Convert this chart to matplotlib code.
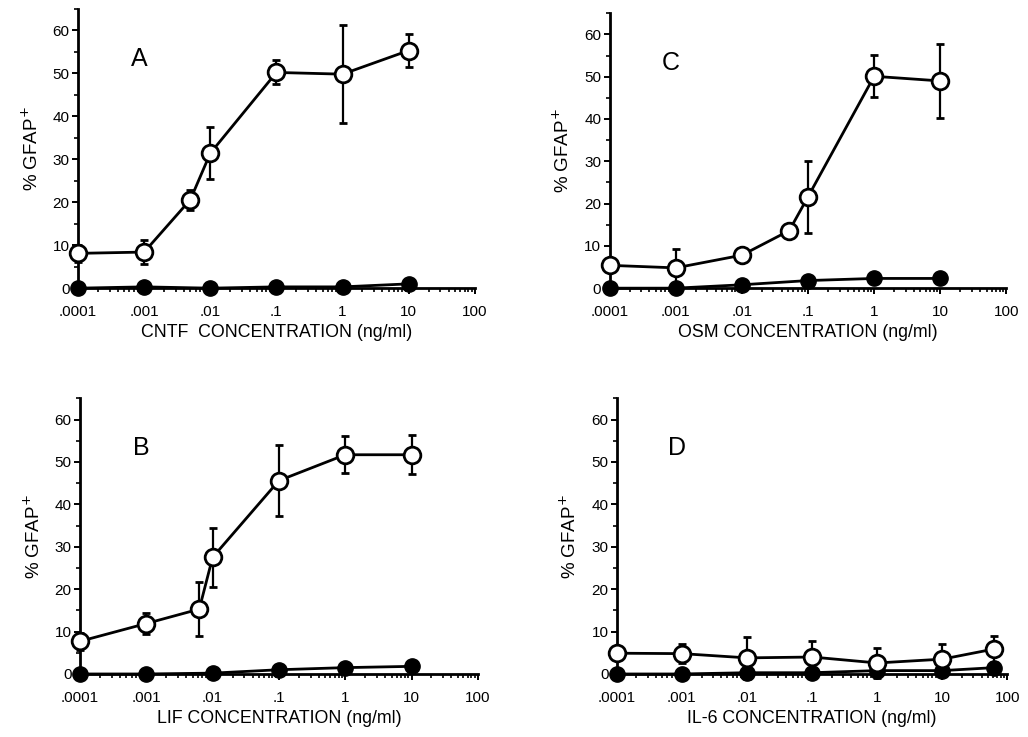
import matplotlib
matplotlib.use('Agg')
import matplotlib.pyplot as plt
from matplotlib.ticker import FixedLocator, LogLocator, NullFormatter, MultipleLocator
import numpy as np

plt.rcParams['font.family'] = ['Liberation Sans', 'DejaVu Sans']

# panel A - CNTF
a_open_x = [1e-4, 1e-3, 5e-3, 1e-2, 0.1, 1, 10]
a_open_y = [8.1, 8.4, 20.6, 31.4, 50.2, 49.8, 55.3]
a_open_err = [2.0, 2.7, 2.3, 6.0, 2.8, 11.4, 3.9]
a_fill_x = [1e-4, 1e-3, 1e-2, 0.1, 1, 10]
a_fill_y = [0.0, 0.3, 0.0, 0.3, 0.3, 1.0]

# panel B - LIF
b_open_x = [1e-4, 1e-3, 6.3e-3, 1e-2, 0.1, 1, 10]
b_open_y = [7.7, 11.9, 15.3, 27.5, 45.6, 51.7, 51.7]
b_open_err = [2.0, 2.5, 6.4, 7.0, 8.3, 4.4, 4.6]
b_fill_x = [1e-4, 1e-3, 1e-2, 0.1, 1, 10]
b_fill_y = [0.0, 0.0, 0.2, 1.0, 1.5, 1.8]

# panel C - OSM
c_open_x = [1e-4, 1e-3, 1e-2, 0.052, 0.1, 1, 10]
c_open_y = [5.4, 4.8, 7.8, 13.6, 21.6, 50.1, 49.0]
c_open_err = [0.0, 4.5, 0.0, 0.0, 8.5, 5.0, 8.8]
c_fill_x = [1e-4, 1e-3, 1e-2, 0.1, 1, 10]
c_fill_y = [0.0, 0.0, 0.8, 1.8, 2.3, 2.3]

# panel D - IL-6
d_open_x = [1e-4, 1e-3, 1e-2, 0.1, 1, 10, 63]
d_open_y = [4.9, 4.8, 3.8, 4.0, 2.6, 3.5, 5.9]
d_open_err = [0.0, 2.3, 5.0, 3.7, 3.5, 3.5, 3.1]
d_fill_x = [1e-4, 1e-3, 1e-2, 0.1, 1, 10, 63]
d_fill_y = [0.0, 0.0, 0.3, 0.3, 0.8, 0.8, 1.5]

x_ticks = [1e-4, 1e-3, 1e-2, 0.1, 1, 10, 100]
x_labels = ['.0001', '.001', '.01', '.1', '1', '10', '100']

panels = [
    ('A', 'CNTF  CONCENTRATION (ng/ml)', a_open_x, a_open_y, a_open_err, a_fill_x, a_fill_y,
     [0.0759, 0.609, 0.386, 0.379]),
    ('B', 'LIF CONCENTRATION (ng/ml)', b_open_x, b_open_y, b_open_err, b_fill_x, b_fill_y,
     [0.0778, 0.0855, 0.387, 0.374]),
    ('C', 'OSM CONCENTRATION (ng/ml)', c_open_x, c_open_y, c_open_err, c_fill_x, c_fill_y,
     [0.593, 0.609, 0.386, 0.373]),
    ('D', 'IL-6 CONCENTRATION (ng/ml)', d_open_x, d_open_y, d_open_err, d_fill_x, d_fill_y,
     [0.600, 0.0855, 0.380, 0.374]),
]

fig = plt.figure(figsize=(10.28, 7.37), dpi=100)

for letter, xlab, ox, oy, oe, fx, fy, pos in panels:
    ax = fig.add_axes(pos)
    ax.plot(fx, fy, '-o', color='black', lw=2.0, ms=11, mfc='black', mec='black',
            clip_on=False, zorder=3)
    ax.errorbar(ox, oy, yerr=oe, fmt='-o', color='black', lw=2.0, ms=12,
                mfc='white', mec='black', mew=2.0, elinewidth=1.6, capsize=3,
                capthick=1.6, clip_on=False, zorder=4)
    ax.set_xscale('log')
    ax.set_xlim(1e-4, 100)
    ax.set_ylim(0, 65)
    ax.spines['top'].set_visible(False)
    ax.spines['right'].set_visible(False)
    ax.spines['left'].set_linewidth(2.0)
    ax.spines['bottom'].set_linewidth(2.0)
    ax.xaxis.set_major_locator(FixedLocator(x_ticks))
    ax.set_xticklabels(x_labels)
    ax.xaxis.set_minor_locator(LogLocator(base=10, subs=np.arange(2, 10), numticks=20))
    ax.xaxis.set_minor_formatter(NullFormatter())
    ax.yaxis.set_major_locator(MultipleLocator(10))
    ax.yaxis.set_minor_locator(MultipleLocator(5))
    ax.tick_params(axis='x', which='major', pad=8)
    ax.tick_params(axis='y', which='major', pad=2)
    ax.tick_params(which='major', direction='out', length=4, width=1.4, labelsize=11)
    ax.tick_params(which='minor', direction='out', length=3, width=1.2)
    ax.set_ylabel('% GFAP$^{+}$', fontsize=13.5, labelpad=8)
    ax.set_xlabel(xlab, fontsize=12.8, labelpad=4)
    ax.text(0.155, 0.82, letter, transform=ax.transAxes, fontsize=18, ha='center', va='center')

plt.savefig('out.png', dpi=100)
